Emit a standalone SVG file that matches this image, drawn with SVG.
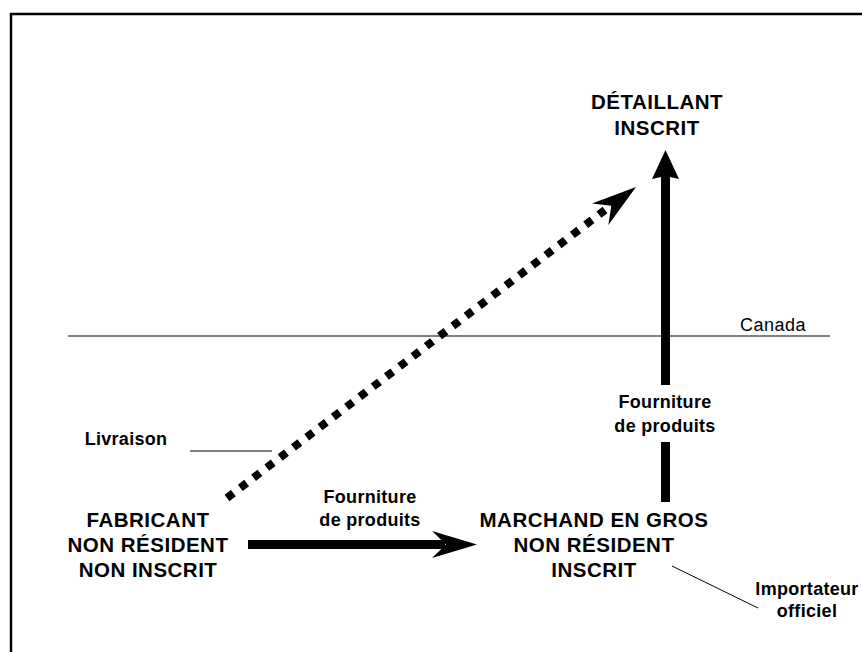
<svg xmlns="http://www.w3.org/2000/svg" width="862" height="652" viewBox="0 0 862 652">
<style>
text{font-family:"Liberation Sans",Arial,Helvetica,sans-serif;fill:#000;text-anchor:middle}
.big{font-size:20.5px;font-weight:bold;letter-spacing:0.5px}
.lbl{font-size:18px;font-weight:bold;letter-spacing:0.3px}
.norm{font-size:18px;letter-spacing:0.5px}
.thin{stroke:#000;stroke-width:1;fill:none}
.shaft{fill:#000}
.dots{stroke:#000;stroke-width:8;stroke-dasharray:8 8.7;fill:none}
</style>
<defs>
<path id="head" d="M0,0 L-45,-13.5 L-31,0 L-45,13.5 Z" fill="#000"/>
</defs>
<rect width="862" height="652" fill="#fff"/>
<path d="M11,652 V14 H862" fill="none" stroke="#000" stroke-width="2.5"/>
<g id="canada">
<line class="thin" x1="68" y1="336" x2="830" y2="336" stroke="#333"/>
<text class="norm" x="773" y="331">Canada</text>
</g>
<g id="detaillant">
<text class="big" x="657" y="109">DÉTAILLANT</text>
<text class="big" x="657" y="135">INSCRIT</text>
</g>
<g id="fabricant">
<text class="big" x="148" y="527">FABRICANT</text>
<text class="big" x="148" y="552">NON RÉSIDENT</text>
<text class="big" x="148" y="577">NON INSCRIT</text>
</g>
<g id="marchand">
<text class="big" x="594" y="527">MARCHAND EN GROS</text>
<text class="big" x="594" y="552">NON RÉSIDENT</text>
<text class="big" x="594" y="577">INSCRIT</text>
</g>
<g id="importateur">
<line class="thin" x1="672" y1="566" x2="758" y2="608"/>
<text class="lbl" x="807" y="595">Importateur</text>
<text class="lbl" x="807" y="617">officiel</text>
</g>
<g id="livraison">
<line class="thin" x1="190" y1="451" x2="272" y2="451"/>
<text class="lbl" x="126" y="445">Livraison</text>
</g>
<g id="connectors">
<line class="dots" x1="227" y1="498" x2="605" y2="210"/>
<use href="#head" transform="translate(636,187) rotate(-37.25)"/>
<rect class="shaft" x="248" y="540" width="197" height="9"/>
<use href="#head" transform="translate(477,544.5)"/>
<polygon class="shaft" points="665.5,150 679,179 670,177 670,385 661,385 661,177 652,179"/>
<rect class="shaft" x="661" y="442" width="9" height="60"/>
<text class="lbl" x="370" y="503">Fourniture</text>
<text class="lbl" x="370" y="526">de produits</text>
<text class="lbl" x="665" y="408">Fourniture</text>
<text class="lbl" x="665" y="432">de produits</text>
</g>
</svg>
